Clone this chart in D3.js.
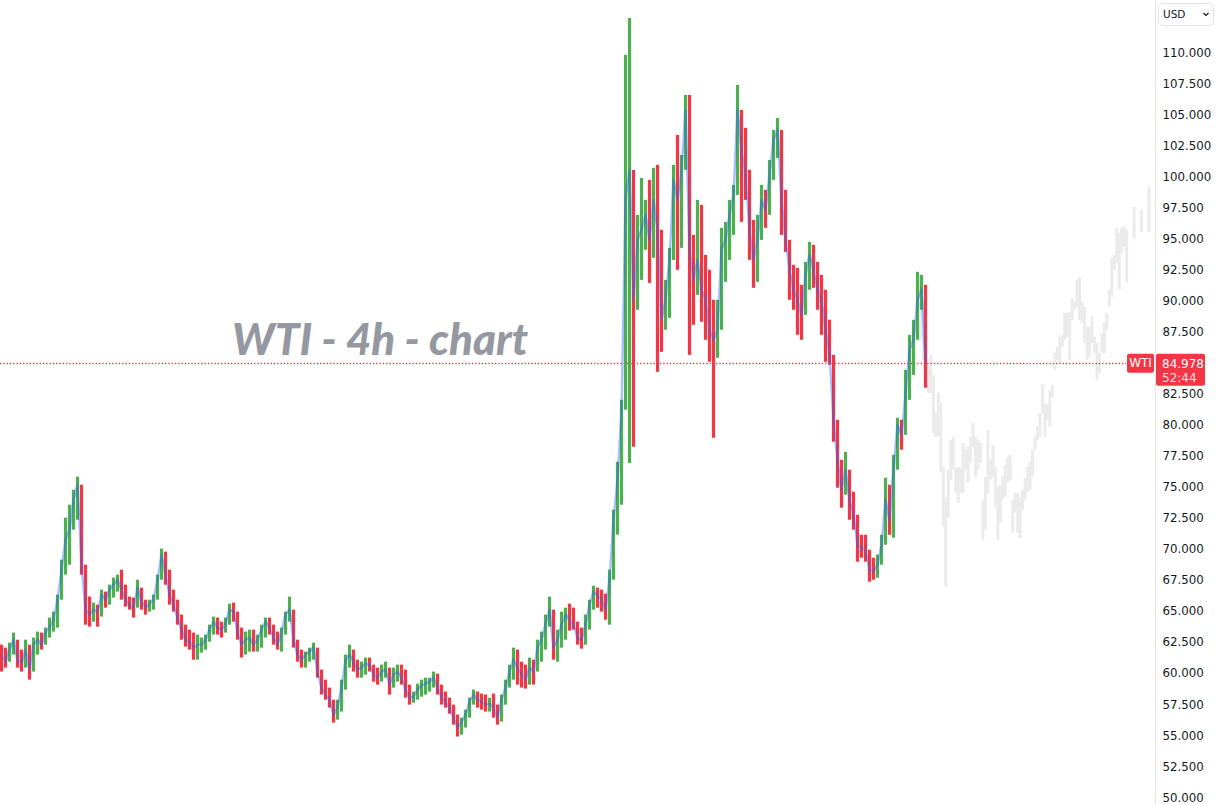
<!DOCTYPE html>
<html><head><meta charset="utf-8">
<script src="https://cdn.jsdelivr.net/npm/d3@7"></script>
<style>body{margin:0;background:#fff;overflow:hidden}svg{display:block}</style>
</head><body><svg id="c" width="1217" height="804"></svg>
<script>
// ---- data (4h WTI bars) ----
const firstOpen = 61.80;
const highs = [
62.27,62.03,62.43,63.24,62.27,61.87,62.67,62.27,62.84,63.32,
63.24,63.64,64.45,64.93,66.30,69.11,72.50,73.54,74.75,75.80,
74.35,68.31,66.14,65.65,65.49,66.70,66.54,67.10,67.67,67.91,
68.31,67.10,66.14,66.06,67.50,66.70,65.89,65.89,66.30,67.91,
70.00,69.76,68.31,66.70,65.89,64.69,63.88,63.48,63.24,63.08,
62.84,63.08,63.88,64.53,64.45,64.12,64.45,65.57,65.65,64.93,
63.64,63.32,63.48,63.48,63.08,63.88,64.45,64.45,63.88,63.32,
63.64,64.93,66.14,64.93,62.67,61.87,61.71,62.03,62.43,61.87,
60.26,59.45,58.81,57.84,57.84,59.45,61.47,62.27,61.87,61.06,
60.90,61.23,61.23,60.66,60.42,60.66,60.90,60.42,60.42,60.66,
60.66,60.26,59.05,58.49,59.13,59.45,59.61,59.61,60.10,59.93,
59.05,58.49,58.00,57.44,56.64,56.39,57.04,58.00,58.65,58.49,
58.33,58.25,58.00,58.33,57.44,58.25,59.45,60.66,62.03,61.87,
60.90,60.66,61.23,61.06,62.67,63.32,64.69,66.14,64.28,63.48,
64.93,65.25,65.57,65.25,64.12,63.64,64.69,65.89,67.02,66.86,
66.70,66.38,68.31,73.14,77.00,81.99,109.77,112.74,93.66,96.88,
99.86,98.09,99.70,100.67,100.91,93.66,91.65,94.23,100.91,103.32,
101.71,106.54,106.54,95.27,98.09,97.69,93.66,92.46,90.04,90.04,
95.84,96.32,98.09,99.30,107.35,105.34,103.89,100.51,96.48,96.88,
99.30,98.90,101.31,103.73,104.69,102.12,98.90,94.87,92.86,92.62,
91.25,93.10,94.71,94.47,93.10,92.05,90.85,88.43,85.05,79.74,
76.76,77.80,76.36,74.59,72.33,71.12,71.12,69.92,69.27,69.52,
71.12,75.71,75.15,77.56,80.54,80.38,84.41,87.22,88.43,92.30,
92.05,91.25];
const lows = [
60.10,60.42,60.90,61.47,60.42,60.10,60.42,59.45,60.10,61.47,
61.87,62.27,62.84,63.32,63.64,65.89,67.91,68.71,72.17,72.33,
67.91,63.88,63.72,64.12,63.72,64.53,65.25,65.49,66.06,66.54,
65.89,65.33,65.09,64.45,65.49,65.09,64.69,64.93,65.09,65.89,
67.67,67.10,65.49,64.93,63.88,62.67,62.11,61.87,61.06,61.06,
61.63,61.87,62.51,63.08,63.08,62.84,63.24,63.88,64.12,62.67,
61.23,61.47,61.71,61.71,61.71,62.03,62.84,63.08,62.27,61.87,
61.71,63.08,64.12,62.03,60.90,60.42,60.42,60.90,61.06,59.61,
58.25,57.84,57.20,55.99,56.23,56.88,58.65,60.42,60.10,59.61,
59.61,59.85,60.10,59.29,59.05,59.29,59.61,58.25,58.81,59.29,
59.05,58.00,57.44,57.60,57.84,58.08,58.25,58.49,58.81,58.25,
57.44,57.20,56.71,55.83,54.87,55.02,55.59,56.39,57.44,57.20,
57.04,56.88,56.88,56.39,55.83,56.07,57.44,58.81,59.45,59.05,
58.81,58.73,59.05,59.05,60.18,60.90,61.87,63.72,61.06,60.90,
62.03,62.67,63.40,63.48,62.27,61.95,62.27,63.48,65.09,65.25,
64.93,64.28,63.88,67.50,71.13,73.54,81.19,76.90,78.21,89.24,
91.65,94.07,91.41,93.42,84.24,85.85,87.63,88.59,93.26,92.46,
94.23,100.51,85.61,88.03,90.44,88.27,86.82,85.05,78.93,85.37,
89.24,91.49,93.26,95.27,99.70,96.32,98.09,93.26,91.01,91.49,
94.87,95.84,96.88,99.70,101.47,95.27,93.90,90.04,89.24,87.22,
86.82,88.83,90.85,91.01,89.24,87.22,85.05,84.81,78.61,74.91,
73.30,74.35,72.33,71.53,68.95,69.27,68.95,67.34,67.50,67.66,
68.71,70.72,71.12,70.88,77.16,77.97,79.58,81.99,84.00,86.82,
89.24,82.96];
const closes = [
61.47,60.90,61.87,62.67,61.06,60.74,61.87,60.26,62.27,62.67,
62.27,63.32,63.64,64.28,65.89,68.31,70.72,71.53,73.94,75.15,
68.71,65.09,64.69,65.09,64.93,66.30,65.89,66.70,67.10,67.50,
66.70,65.89,65.49,65.25,66.86,65.73,65.25,65.57,65.89,67.50,
69.52,67.91,66.30,65.49,64.45,63.48,62.67,62.51,62.03,62.27,
62.27,62.67,63.48,64.12,63.64,63.48,63.96,65.09,64.93,63.32,
62.27,62.67,62.84,62.27,62.67,63.48,64.12,63.64,62.84,62.27,
63.32,64.69,65.09,62.67,61.47,61.06,61.47,61.71,62.03,60.10,
58.81,58.25,57.84,56.64,57.20,58.81,61.06,61.47,60.90,60.26,
60.42,60.74,60.66,59.85,59.61,60.10,60.26,59.05,59.85,60.10,
59.61,58.65,58.00,58.08,58.65,58.97,59.13,59.29,59.61,58.81,
58.00,57.68,57.20,56.39,55.59,56.07,56.64,57.68,58.25,57.84,
57.68,57.44,57.52,57.20,56.39,57.84,58.81,60.10,61.06,60.42,
59.85,59.45,60.42,60.10,62.03,62.67,63.88,65.09,62.03,62.67,
63.88,64.69,64.28,63.88,62.84,62.67,63.88,65.49,66.54,66.22,
65.89,65.09,67.50,72.33,75.55,81.19,98.09,100.50,90.04,94.87,
95.68,96.88,94.87,98.09,95.68,88.43,90.04,93.26,99.70,98.09,
100.51,105.34,94.07,91.65,93.26,90.85,90.04,87.63,86.82,87.63,
94.07,94.87,96.88,98.49,105.34,102.12,100.10,95.68,93.26,94.87,
98.09,97.29,100.10,102.92,103.73,98.09,94.87,92.46,90.85,90.04,
88.83,92.05,93.66,92.46,90.85,90.04,87.63,85.61,80.38,77.16,
74.75,76.36,73.94,72.73,70.32,70.08,69.92,68.31,68.15,68.71,
70.32,73.94,72.33,76.36,79.98,79.17,82.39,86.02,86.82,90.04,
90.85,84.978];
// projected (ghost) bars
const ghostHighs = [
92.05,90.04,88.19,84.65,85.61,84.00,80.94,82.55,81.75,76.60,
74.10,76.36,78.77,79.01,76.52,76.60,76.52,78.53,77.97,78.21,
79.01,80.14,79.01,78.77,78.53,73.94,75.79,79.58,77.16,78.37,
76.60,74.99,75.15,75.79,76.76,77.40,77.56,73.94,74.50,74.50,
74.10,74.75,75.71,76.60,77.00,77.97,79.01,79.82,80.94,83.20,
81.75,81.59,82.80,83.20,85.77,86.26,87.06,87.22,88.99,88.99,
89.07,90.20,89.88,91.65,91.89,89.88,89.48,87.87,87.87,88.67,
87.06,86.58,85.77,87.38,88.19,88.99,90.85,93.42,93.66,95.84,
95.43,95.84,95.92,95.68,null,null,97.53,null,null,97.29,
null,null,99.14];
const ghostLows = [
86.82,85.21,83.04,82.55,82.55,79.33,79.01,79.01,76.12,71.77,
66.94,72.49,75.55,76.36,74.50,73.70,74.50,74.50,76.36,75.31,
76.92,78.21,75.79,76.36,76.92,70.72,71.53,74.50,75.55,75.79,
73.38,70.72,72.09,73.94,74.18,75.31,75.55,71.28,72.89,71.28,
70.88,73.14,73.94,74.59,74.75,75.79,77.97,78.77,79.01,80.94,
79.01,80.38,79.82,82.23,84.41,85.21,84.97,86.26,86.82,87.06,
85.21,88.43,89.24,89.48,88.43,88.19,86.58,85.21,85.45,86.58,
85.77,83.60,84.16,85.77,85.77,87.63,89.48,90.28,92.46,93.02,
90.85,93.82,94.31,91.49,null,null,95.03,null,null,95.51,
null,null,95.51];
const priceTicks = [50,52.5,55,57.5,60,62.5,65,67.5,70,72.5,75,77.5,80,82.5,85,87.5,90,92.5,95,97.5,100,102.5,105,107.5,110];
const symbol = "WTI";
const lastPrice = 84.978;
const countdown = "52:44";
const currency = "USD";
const title = "WTI - 4h - chart";

// ---- drawing ----
const W = 1217, H = 804, axisX = 1155.5;
const RED = "#f23645", GREEN = "#4caf50";
const svg = d3.select("#c");
const y = d3.scaleLinear().domain([50, 110]).range([797, 52]);
const x = d3.scaleLinear().domain([0, closes.length - 1]).range([1.5, 925.5]);
const gx = d3.scaleLinear().domain([0, ghostHighs.length - 1]).range([921, 1149]);

const bars = closes.map((c, i) => {
  const o = i === 0 ? firstOpen : closes[i - 1];
  return {i, o, c, h: Math.max(highs[i], o, c), l: Math.min(lows[i], o, c)};
});

// title watermark
svg.append("text").attr("x", 232).attr("y", 355)
  .attr("font-family", "Lato, 'Open Sans', sans-serif").attr("font-style", "italic")
  .attr("font-weight", 900).attr("font-size", 44).attr("fill", "#9598a1")
  .attr("textLength", 296).attr("lengthAdjust", "spacingAndGlyphs")
  .text(title);

// ghost projection
const ghost = ghostHighs.map((h, i) => ({i, h, l: ghostLows[i]})).filter(d => d.h != null);
svg.append("g").selectAll("rect").data(ghost).join("rect")
  .attr("x", d => gx(d.i) - 1.5).attr("width", 3)
  .attr("y", d => y(d.h)).attr("height", d => Math.max(1, y(d.l) - y(d.h)))
  .attr("fill", "#ebebeb");

// last price dotted line
const lyLine = Math.round(y(lastPrice)) + 0.5;
svg.append("line").attr("x1", 0).attr("x2", 1126).attr("y1", lyLine).attr("y2", lyLine)
  .attr("stroke", RED).attr("stroke-width", 1.3).attr("stroke-dasharray", "1.3,2");

// bars
svg.append("g").selectAll("rect").data(bars).join("rect")
  .attr("x", d => x(d.i) - 1.6).attr("width", 3.2)
  .attr("y", d => y(d.h)).attr("height", d => Math.max(1, y(d.l) - y(d.h)))
  .attr("fill", d => d.c >= d.o ? GREEN : RED);

// close line overlay
svg.append("path").datum(bars)
  .attr("d", d3.line().x(d => x(d.i)).y(d => y(d.c)))
  .attr("fill", "none").attr("stroke", "#2962ff").attr("stroke-opacity", 0.4)
  .attr("stroke-width", 2.4).attr("stroke-linejoin", "round");

// price axis
svg.append("rect").attr("x", axisX).attr("y", 0).attr("width", W - axisX).attr("height", H).attr("fill", "#fff");
svg.append("line").attr("x1", axisX).attr("x2", axisX).attr("y1", 0).attr("y2", H).attr("stroke", "#e0e3eb");
const axis = d3.axisRight(y).tickValues(priceTicks).tickFormat(d3.format(".3f")).tickSize(0).tickPadding(0);
const ag = svg.append("g").attr("transform", `translate(${axisX + 7},0)`).call(axis);
ag.select(".domain").remove();
ag.selectAll("text").attr("font-family", "'DejaVu Sans', Verdana, sans-serif").attr("font-size", 11.8)
  .attr("fill", "#131722").attr("dy", "0.35em");

// currency box
svg.append("rect").attr("x", 1158.5).attr("y", 3.5).attr("width", 55).attr("height", 22).attr("rx", 4)
  .attr("fill", "#fff").attr("stroke", "#e0e3eb");
svg.append("text").attr("x", 1163).attr("y", 18).attr("font-family", "'DejaVu Sans', sans-serif")
  .attr("font-size", 10.5).attr("fill", "#131722").text(currency);
svg.append("path").attr("d", "M1203.5,13 l2.5,2.5 l2.5,-2.5").attr("fill", "none").attr("stroke", "#131722").attr("stroke-width", 1.2);

// symbol + price labels
const ly = y(lastPrice);
svg.append("rect").attr("x", 1127).attr("y", ly - 9).attr("width", 27).attr("height", 19).attr("rx", 2).attr("fill", RED);
svg.append("text").attr("x", 1140.5).attr("y", ly).attr("dy", "0.36em").attr("text-anchor", "middle")
  .attr("font-family", "'DejaVu Sans', sans-serif").attr("font-size", 12).attr("fill", "#fff").text(symbol);
svg.append("rect").attr("x", 1156).attr("y", ly - 9).attr("width", 49).attr("height", 32).attr("rx", 2).attr("fill", RED);
svg.append("text").attr("x", 1162).attr("y", ly + 1).attr("dy", "0.36em")
  .attr("font-family", "'DejaVu Sans', sans-serif").attr("font-size", 12).attr("fill", "#fff").text(d3.format(".3f")(lastPrice));
svg.append("text").attr("x", 1162).attr("y", ly + 15).attr("dy", "0.36em")
  .attr("font-family", "'DejaVu Sans', sans-serif").attr("font-size", 12).attr("fill", "#fff").attr("fill-opacity", 0.85).text(countdown);
</script></body></html>
